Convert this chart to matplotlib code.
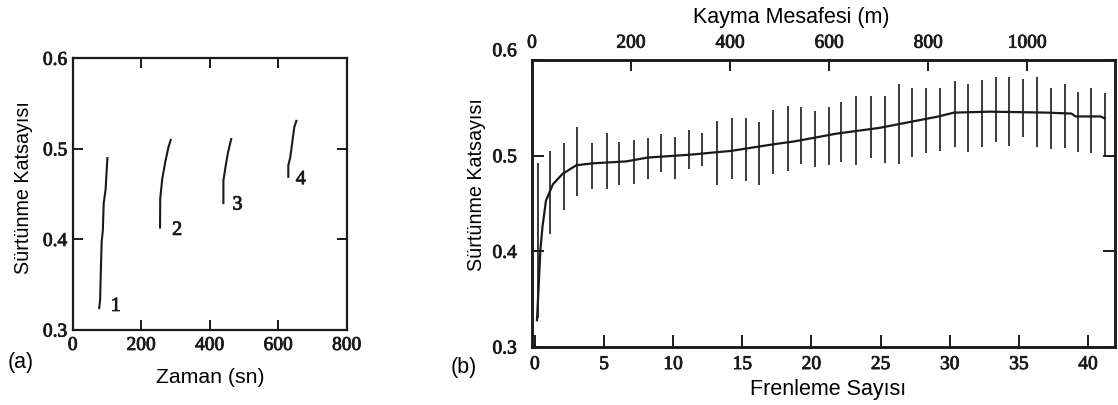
import matplotlib
matplotlib.use("Agg")
import matplotlib.pyplot as plt
import matplotlib.patheffects as pe

W, H = 1118, 405
fig = plt.figure(figsize=(W / 100, H / 100), dpi=100)


def fx(x):
    return x / W


def fy(y):
    return 1 - y / H


SERIF = "Liberation Serif"
SANS = "Liberation Sans"
INK = "#1a1a1a"
THICK = [pe.withStroke(linewidth=0.6, foreground=INK)]

# ---------------- data: panel (a) ----------------
time_1 = [77, 80, 82.5, 84.5, 88, 90.5, 96, 99.5, 101.5]
mu_1 = [0.323, 0.333, 0.370, 0.397, 0.410, 0.440, 0.455, 0.478, 0.491]
time_2 = [255, 255.5, 261.5, 270, 279, 287]
mu_2 = [0.412, 0.445, 0.467, 0.485, 0.501, 0.511]
time_3 = [440, 440, 446.5, 454, 463.5]
mu_3 = [0.439, 0.465, 0.481, 0.497, 0.512]
time_4 = [629.5, 629.5, 635, 641, 647, 654]
mu_4 = [0.468, 0.482, 0.490, 0.507, 0.524, 0.532]
curve_labels = ["1", "2", "3", "4"]
label_time = [126, 305, 481, 666]
label_mu = [0.326, 0.410, 0.438, 0.466]

# ---------------- data: panel (b) ----------------
brake_no = [0.2, 1.1, 2.1, 3.05, 4.15, 5.2, 6.1, 7.15, 8.15, 9.15, 10.15,
            11.15, 12.1, 13.2, 14.25, 15.25, 16.2, 17.2, 18.3, 19.25, 20.25,
            21.25, 22.15, 23.2, 24.3, 25.35, 26.35, 27.3, 28.25, 29.3, 30.35,
            31.3, 32.35, 33.35, 34.3, 35.3, 36.3, 37.35, 38.3, 39.25, 40.25,
            41.25]
mu_low = [0.330, 0.418, 0.443, 0.458, 0.465, 0.465, 0.469, 0.470, 0.476,
          0.483, 0.476, 0.486, 0.489, 0.469, 0.476, 0.474, 0.469, 0.481,
          0.484, 0.491, 0.488, 0.490, 0.493, 0.490, 0.498, 0.492, 0.491,
          0.499, 0.503, 0.505, 0.509, 0.504, 0.509, 0.514, 0.510, 0.519,
          0.509, 0.507, 0.508, 0.504, 0.503, 0.500]
mu_high = [0.492, 0.505, 0.513, 0.530, 0.513, 0.524, 0.514, 0.516, 0.518,
           0.523, 0.519, 0.527, 0.524, 0.536, 0.539, 0.539, 0.535, 0.548,
           0.552, 0.551, 0.547, 0.551, 0.556, 0.562, 0.562, 0.562, 0.575,
           0.571, 0.571, 0.571, 0.578, 0.575, 0.579, 0.582, 0.582, 0.580,
           0.582, 0.571, 0.575, 0.567, 0.571, 0.565]
mean_n = [0.15, 0.4, 0.55, 0.8, 1.3, 2.0, 3.0, 4.2, 6.6, 8.15, 11.2, 14.2,
          17.3, 18.8, 21.8, 24.9, 27.4, 29.2, 30.3, 32.9, 37.0, 38.8, 39.1,
          40.9, 41.2]
mean_mu = [0.328, 0.402, 0.426, 0.453, 0.470, 0.481, 0.490, 0.492, 0.494,
           0.498, 0.501, 0.505, 0.512, 0.515, 0.523, 0.529, 0.536, 0.541,
           0.545, 0.546, 0.545, 0.544, 0.541, 0.541, 0.539]

xticks_a = [0, 200, 400, 600, 800]
yticks = [0.3, 0.4, 0.5, 0.6]
xticks_b = [0, 5, 10, 15, 20, 25, 30, 35, 40]
xticks_top = [0, 200, 400, 600, 800, 1000]


def style_axes(ax, lw):
    for s in ax.spines.values():
        s.set_linewidth(lw)
        s.set_color(INK)


def serif_labels(labels):
    for lab in labels:
        lab.set_family(SERIF)
        lab.set_path_effects(THICK)


# ---------------- panel (a) ----------------
axa = fig.add_axes([fx(72.7), fy(330), fx(346.7) - fx(72.7), fy(58.3) - fy(330)])
for t, m in [(time_1, mu_1), (time_2, mu_2), (time_3, mu_3), (time_4, mu_4)]:
    axa.plot(t, m, color=INK, lw=1.5, solid_capstyle="butt")
for lab, t, m in zip(curve_labels, label_time, label_mu):
    axa.text(t, m, lab, fontsize=14.5, family=SERIF, color=INK,
             ha="center", va="center", path_effects=THICK)
axa.set_xlim(0, 800)
axa.set_ylim(0.3, 0.6)
axa.set_xticks(xticks_a)
axa.set_xticklabels([str(v) for v in xticks_a])
axa.set_yticks(yticks)
axa.set_yticklabels(["%.1f" % v for v in yticks])
axa.tick_params(direction="in", length=7.5, width=1.4, color=INK,
                top=True, right=True, labelsize=14, labelcolor=INK)
axa.tick_params(axis="x", pad=5)
axa.tick_params(axis="y", pad=4)
serif_labels(axa.get_xticklabels() + axa.get_yticklabels())
style_axes(axa, 1.6)

# ---------------- panel (b) ----------------
axb = fig.add_axes([fx(532), fy(347), fx(1115) - fx(532), fy(60) - fy(347)])
axb.vlines(brake_no, mu_low, mu_high, color=INK, lw=1.2)
axb.plot(mean_n, mean_mu, color=INK, lw=1.6)
axb.set_xlim(-0.21, 41.95)
axb.set_ylim(0.3, 0.6)
axb.set_xticks(xticks_b)
axb.set_xticklabels([str(v) for v in xticks_b])
axb.set_yticks(yticks)
axb.set_yticklabels(["%.1f" % v for v in yticks[:-1]] + [""])
axb.tick_params(direction="in", length=8.5, width=1.4, color=INK,
                right=True, labelsize=14, labelcolor=INK)
axb.tick_params(axis="x", pad=6.5)
axb.tick_params(axis="y", pad=11)
axb.xaxis.get_major_ticks()[0].tick1line.set_visible(False)
serif_labels(axb.get_xticklabels() + axb.get_yticklabels())
style_axes(axb, 1.8)
axb.annotate("0.6", xy=(0, 0.6), xycoords=("axes fraction", "data"),
             xytext=(-11, 6), textcoords="offset points", ha="right",
             va="center", fontsize=14, family=SERIF, color=INK,
             path_effects=THICK)

axt = axb.twiny()
axt.set_xlim(0, 1177)
axt.set_xticks(xticks_top)
axt.set_xticklabels([str(v) for v in xticks_top])
axt.tick_params(direction="in", length=8, width=1.4, color=INK,
                labelsize=14, labelcolor=INK, pad=6)
serif_labels(axt.get_xticklabels())
style_axes(axt, 1.8)

# ---------------- labels ----------------
fig.text(fx(210.7), fy(383.3), "Zaman (sn)", fontsize=15.3, family=SANS,
         color="black", ha="center", va="baseline")
fig.text(fx(23.5), fy(187.5), "Sürtünme Katsayısı", fontsize=14.2,
         family=SANS, color="black", ha="center", va="center", rotation=90)
fig.text(fx(8), fy(368), "(a)", fontsize=15.5, family=SANS, color="black",
         ha="left", va="baseline")
fig.text(fx(828), fy(395), "Frenleme Sayısı", fontsize=15.5, family=SANS,
         color="black", ha="center", va="baseline")
fig.text(fx(791.4), fy(23), "Kayma Mesafesi (m)", fontsize=15.5,
         family=SANS, color="black", ha="center", va="baseline")
fig.text(fx(476), fy(185), "Sürtünme Katsayısı", fontsize=14.2,
         family=SANS, color="black", ha="center", va="center", rotation=90)
fig.text(fx(451), fy(373), "(b)", fontsize=15.5, family=SANS, color="black",
         ha="left", va="baseline")

fig.savefig("out.png", dpi=100)
